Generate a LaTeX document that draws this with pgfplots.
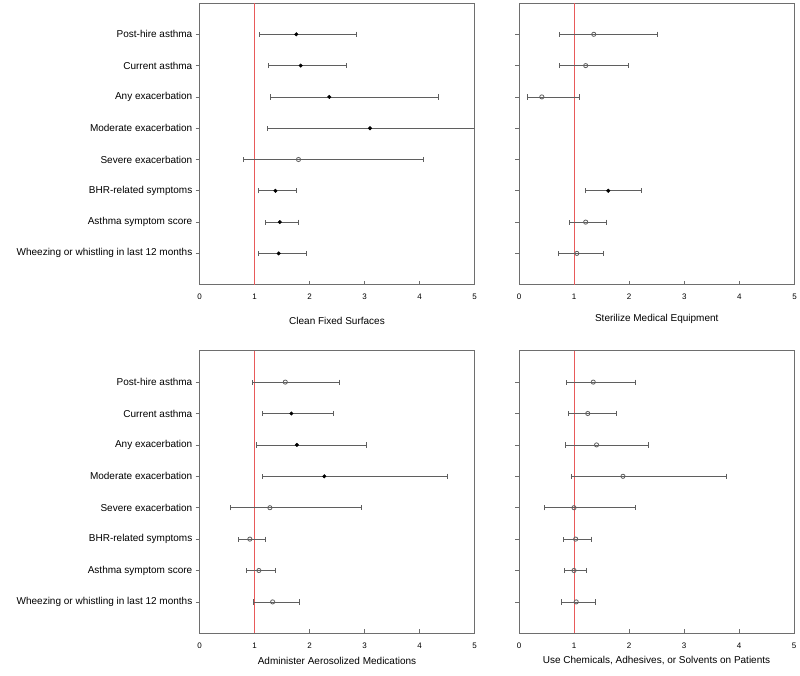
\documentclass[border=0pt]{standalone}
\usepackage{fontspec}
\setmainfont{Liberation Sans}
\usepackage{pgfplots}
\usepackage{pgfplotstable}
\pgfplotsset{compat=1.18}
\definecolor{axgray}{RGB}{110,110,110}
\definecolor{ebgray}{RGB}{95,95,95}
\definecolor{refred}{RGB}{232,90,90}

\pgfplotstableread{
y pt lo hi
1 1.76 1.085 2.85
2 1.84 1.25 2.68
3 2.36 1.285 4.34
4 3.10 1.24 5.6
6 1.38 1.08 1.77
7 1.46 1.19 1.80
8 1.44 1.08 1.94
}\TLfilled
\pgfplotstableread{
y pt lo hi
5 1.80 0.79 4.08
}\TLopen
\pgfplotstableread{
y pt lo hi
6 1.62 1.20 2.22
}\TRfilled
\pgfplotstableread{
y pt lo hi
1 1.357 0.733 2.51
2 1.21 0.739 1.99
3 0.414 0.156 1.087
7 1.21 0.92 1.58
8 1.05 0.71 1.54
}\TRopen
\pgfplotstableread{
y pt lo hi
2 1.67 1.15 2.43
3 1.77 1.04 3.04
4 2.27 1.145 4.50
}\BLfilled
\pgfplotstableread{
y pt lo hi
1 1.56 0.96 2.55
5 1.28 0.56 2.95
6 0.915 0.70 1.20
7 1.08 0.86 1.38
8 1.33 0.976 1.81
}\BLopen
\pgfplotstableread{
y pt lo hi
1 1.35 0.87 2.115
2 1.25 0.89 1.77
3 1.41 0.85 2.35
4 1.89 0.95 3.77
5 1.00 0.47 2.115
6 1.03 0.80 1.315
7 1.00 0.82 1.23
8 1.04 0.77 1.39
}\BRopen

\pgfplotsset{
  forest/.style={
    scale only axis, width=275pt, height=281.7pt,
    anchor=south west,
    xmin=0, xmax=5, ymin=0, ymax=9, y dir=reverse,
    xtick={0,1,2,3,4,5}, ytick={1,2,3,4,5,6,7,8},
    axis line style={axgray, line width=0.8pt},
    x tick style={axgray, line width=0.8pt},
    y tick style={axgray, line width=0.8pt},
    xtick align=inside, ytick align=outside,
    major tick length=4pt,
    xtick pos=bottom, ytick pos=left,
    /pgf/number format/assume math mode=true,
    xticklabel style={font=\fontsize{8}{9}\selectfont, inner sep=0pt, anchor=north, yshift=-9pt},
    yticklabel style={font=\fontsize{10}{12}\selectfont, inner sep=0pt, anchor=east, xshift=-3pt},
    label style={font=\fontsize{10}{12}\selectfont},
    clip=true,
  },
  ebars/.style={
    error bars/.cd, x dir=both, x explicit,
    error mark=|,
    error bar style={ebgray, line width=0.8pt},
    error mark options={ebgray, line width=0.8pt, mark size=2.6pt, rotate=0},
  },
  filledpt/.style={only marks, mark=*, mark size=1.8pt, mark options={fill=black, draw=black}, ebars},
  openpt/.style={only marks, mark=o, mark size=2.1pt, mark options={fill=white, draw=ebgray, line width=0.8pt}, ebars},
  refline/.style={draw=refred, color=refred, line width=1pt, no marks},
}

\newcommand{\series}[2]{%
  \addplot[#1] table[x=pt, y=y,
    x error plus expr=\thisrow{hi}-\thisrow{pt},
    x error minus expr=\thisrow{pt}-\thisrow{lo}] {#2};}

\begin{document}
\begin{tikzpicture}[x=1pt,y=1pt]
\path[use as bounding box] (0,0) rectangle (800,675);

% Top left
\begin{axis}[forest, at={(199.5pt,390.3pt)},
  yticklabels={Post-hire asthma, Current asthma, Any exacerbation, Moderate exacerbation, Severe exacerbation, BHR-related symptoms, Asthma symptom score, Wheezing or whistling in last 12 months},
  xlabel={Clean Fixed Surfaces},
  xlabel style={at={(axis description cs:0.5,0)}, anchor=center, yshift=-36pt}]
\addplot[refline] coordinates {(1,0) (1,9)};
\series{filledpt}{\TLfilled}
\series{openpt}{\TLopen}
\end{axis}

% Top right
\begin{axis}[forest, at={(519pt,390.3pt)}, width=275.5pt,
  yticklabels={},
  xlabel={Sterilize Medical Equipment},
  xlabel style={at={(axis description cs:0.5,0)}, anchor=center, yshift=-34pt}]
\addplot[refline] coordinates {(1,0) (1,9)};
\series{openpt}{\TRopen}
\series{filledpt}{\TRfilled}
\end{axis}

% Bottom left
\begin{axis}[forest, at={(199.5pt,41.7pt)}, height=282.6pt,
  yticklabels={Post-hire asthma, Current asthma, Any exacerbation, Moderate exacerbation, Severe exacerbation, BHR-related symptoms, Asthma symptom score, Wheezing or whistling in last 12 months},
  xlabel={Administer Aerosolized Medications},
  xlabel style={at={(axis description cs:0.5,0)}, anchor=center, yshift=-27.5pt}]
\addplot[refline] coordinates {(1,0) (1,9)};
\series{filledpt}{\BLfilled}
\series{openpt}{\BLopen}
\end{axis}

% Bottom right
\begin{axis}[forest, at={(519pt,41.7pt)}, height=282.6pt,
  yticklabels={},
  xlabel={Use Chemicals, Adhesives, or Solvents on Patients},
  xlabel style={at={(axis description cs:0.5,0)}, anchor=center, yshift=-27.5pt}]
\addplot[refline] coordinates {(1,0) (1,9)};
\series{openpt}{\BRopen}
\end{axis}
\end{tikzpicture}
\end{document}
